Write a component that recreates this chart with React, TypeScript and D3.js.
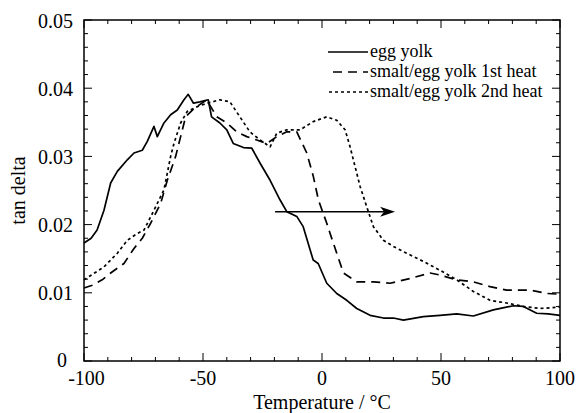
import React from "react";
import * as d3 from "d3";

const xTicksMajor = [-100, -50, 0, 50, 100];
const xTickLabels = ["-100", "-50", "0", "50", "100"];
const yTicksMajor = [0, 0.01, 0.02, 0.03, 0.04, 0.05];
const yTickLabels = ["0", "0.01", "0.02", "0.03", "0.04", "0.05"];

const eggYolkT = [-100, -97, -94.5, -91.6, -88.8, -86, -81.8, -79, -75.5, -73.4, -70.6, -69.2, -66.4, -63.6, -60.8, -58, -56.2, -54, -51.3, -47.8, -46.4, -42.9, -40, -37.3, -33, -29.5, -26, -21.8, -17.6, -14.8, -10.6, -7.9, -5, -3.7, -1.6, 2, 6.2, 10.4, 14.6, 20.2, 25.8, 30, 34.2, 42.6, 49.6, 56.6, 63.6, 72, 76, 80.4, 84.6, 90.2, 95, 100];
const eggYolkV = [0.0173, 0.0180, 0.0192, 0.0221, 0.0261, 0.0278, 0.0295, 0.0305, 0.0309, 0.0322, 0.0344, 0.0329, 0.0349, 0.0361, 0.0368, 0.0383, 0.0391, 0.0378, 0.0380, 0.0383, 0.0358, 0.0349, 0.0339, 0.0319, 0.0313, 0.0312, 0.0290, 0.0265, 0.0236, 0.0219, 0.0212, 0.0197, 0.0163, 0.0148, 0.0143, 0.0114, 0.0099, 0.0089, 0.0077, 0.0067, 0.0063, 0.0063, 0.0060, 0.0065, 0.0067, 0.0069, 0.0066, 0.0075, 0.0078, 0.0081, 0.0080, 0.0070, 0.0069, 0.0067];

const heat1T = [-100, -96.5, -92, -88.8, -83.2, -79, -75.5, -72, -67.8, -65, -61.5, -59.4, -57.3, -53.8, -48.5, -44.2, -40, -35.8, -31.6, -27.4, -23.2, -19, -14.8, -10.6, -6.4, -3.6, -1.5, 2, 3.4, 6.2, 9, 14.6, 21.6, 28.6, 37, 45.4, 49.6, 56.6, 63.6, 70.6, 77.6, 87.4, 94.4, 100];
const heat1V = [0.0107, 0.0111, 0.0120, 0.0129, 0.0143, 0.0165, 0.0180, 0.0202, 0.0231, 0.0265, 0.0300, 0.0329, 0.0358, 0.0370, 0.0383, 0.0358, 0.0349, 0.0336, 0.0329, 0.0324, 0.0319, 0.0329, 0.0336, 0.0336, 0.0305, 0.0270, 0.0236, 0.0202, 0.0187, 0.0158, 0.0129, 0.0116, 0.0116, 0.0114, 0.0121, 0.0129, 0.0126, 0.0119, 0.0116, 0.0109, 0.0104, 0.0104, 0.0099, 0.0098];

const heat2T = [-100, -91.6, -86, -81.8, -77.6, -74.8, -70.6, -66.4, -63.6, -62.2, -59.4, -56.6, -52.4, -48.2, -42.9, -38.7, -34.5, -30.3, -26, -21.8, -19, -14.8, -9.2, -3.7, 2, 6.2, 9.7, 11.8, 13.9, 16, 18.8, 21.6, 25.8, 30, 35.6, 42.6, 49.6, 56.6, 63.6, 70.6, 77.6, 84.6, 91.6, 100];
const heat2V = [0.0119, 0.0138, 0.0158, 0.0177, 0.0187, 0.0192, 0.0221, 0.0251, 0.0300, 0.0319, 0.0349, 0.0366, 0.0373, 0.0378, 0.0383, 0.0380, 0.0358, 0.0336, 0.0324, 0.0314, 0.0334, 0.0339, 0.0339, 0.0351, 0.0358, 0.0353, 0.0339, 0.0314, 0.0285, 0.0256, 0.0226, 0.0197, 0.0177, 0.0168, 0.0158, 0.0146, 0.0133, 0.0119, 0.0102, 0.0089, 0.0085, 0.0080, 0.0077, 0.0079];

const seriesNames = ["egg yolk", "smalt/egg yolk 1st heat", "smalt/egg yolk 2nd heat"];
const arrowT = [-19.7, 30.7];
const arrowV = 0.0219;

export default function App() {
  const W = 576, H = 413;
  const L = 84, R = 560, T = 20, B = 361;
  const x = d3.scaleLinear().domain([-100, 100]).range([L, R]);
  const y = d3.scaleLinear().domain([0, 0.05]).range([B, T]);
  const font = "'Liberation Serif', 'Times New Roman', serif";

  const mk = (ts: number[], vs: number[]) =>
    d3.line<number>().x((_, i) => x(ts[i])).y((v) => y(v))(vs) || "";

  const series = [
    { d: mk(eggYolkT, eggYolkV), dash: "none", w: 1.7 },
    { d: mk(heat1T, heat1V), dash: "9,6", w: 1.7 },
    { d: mk(heat2T, heat2V), dash: "3,3", w: 1.7 },
  ];

  const xMinor = d3.range(-100, 101, 10);
  const yMinor = d3.range(0, 0.0501, 0.002);

  const ticks: JSX.Element[] = [];
  xMinor.forEach((t, i) => {
    const major = xTicksMajor.some((m) => Math.abs(m - t) < 1e-6);
    const len = major ? 8 : 4;
    ticks.push(<line key={"xb" + i} x1={x(t)} x2={x(t)} y1={B} y2={B - len} stroke="#000" strokeWidth={1} />);
    ticks.push(<line key={"xt" + i} x1={x(t)} x2={x(t)} y1={T} y2={T + len} stroke="#000" strokeWidth={1} />);
  });
  yMinor.forEach((t, i) => {
    const major = yTicksMajor.some((m) => Math.abs(m - t) < 1e-6);
    const len = major ? 8 : 4;
    ticks.push(<line key={"yl" + i} x1={L} x2={L + len} y1={y(t)} y2={y(t)} stroke="#000" strokeWidth={1} />);
    ticks.push(<line key={"yr" + i} x1={R} x2={R - len} y1={y(t)} y2={y(t)} stroke="#000" strokeWidth={1} />);
  });

  const ax0 = x(arrowT[0]), ax1 = x(arrowT[1]), ay = y(arrowV);

  const legY = [52, 72, 92];
  const legDash = ["none", "9,6", "3,3"];
  const legX0 = [328, 333, 329];

  return (
    <svg width={W} height={H} style={{ position: "absolute", left: 0, top: 0, background: "#fff" }}>
      <rect x={0} y={0} width={W} height={H} fill="#fff" />
      {series.map((s, i) => (
        <path key={i} d={s.d} fill="none" stroke="#000" strokeWidth={s.w} strokeDasharray={s.dash} strokeLinejoin="round" />
      ))}
      {ticks}
      <rect x={L} y={T} width={R - L} height={B - T} fill="none" stroke="#000" strokeWidth={1.5} />
      {xTicksMajor.map((t, i) => (
        <text key={"xl" + i} x={x(t) + (i === 0 ? 2.5 : 0)} y={385} textAnchor="middle" fontFamily={font} fontSize={20}>{xTickLabels[i]}</text>
      ))}
      {yTicksMajor.map((t, i) => (
        <text key={"yl" + i} x={i === 0 ? 67 : 73} y={y(t) + (i === 0 ? 6 : 7.5)} textAnchor="end" fontFamily={font} fontSize={20}>{yTickLabels[i]}</text>
      ))}
      <text x={(L + R) / 2} y={409} textAnchor="middle" fontFamily={font} fontSize={20}>Temperature / °C</text>
      <text transform={`translate(25,${(T + B) / 2}) rotate(-90)`} textAnchor="middle" fontFamily={font} fontSize={20}>tan delta</text>
      <line x1={ax0} x2={ax1 - 8} y1={ay} y2={ay} stroke="#000" strokeWidth={1.5} />
      <path d={`M${ax1},${ay} L${ax1 - 15},${ay - 5} L${ax1 - 11},${ay} L${ax1 - 15},${ay + 5} Z`} fill="#000" />
      {seriesNames.map((n, i) => (
        <g key={"lg" + i}>
          <line x1={legX0[i]} x2={368} y1={legY[i]} y2={legY[i]} stroke="#000" strokeWidth={1.7} strokeDasharray={legDash[i]} />
          <text x={370} y={legY[i] + 5} fontFamily={font} fontSize={18}>{n}</text>
        </g>
      ))}
    </svg>
  );
}
